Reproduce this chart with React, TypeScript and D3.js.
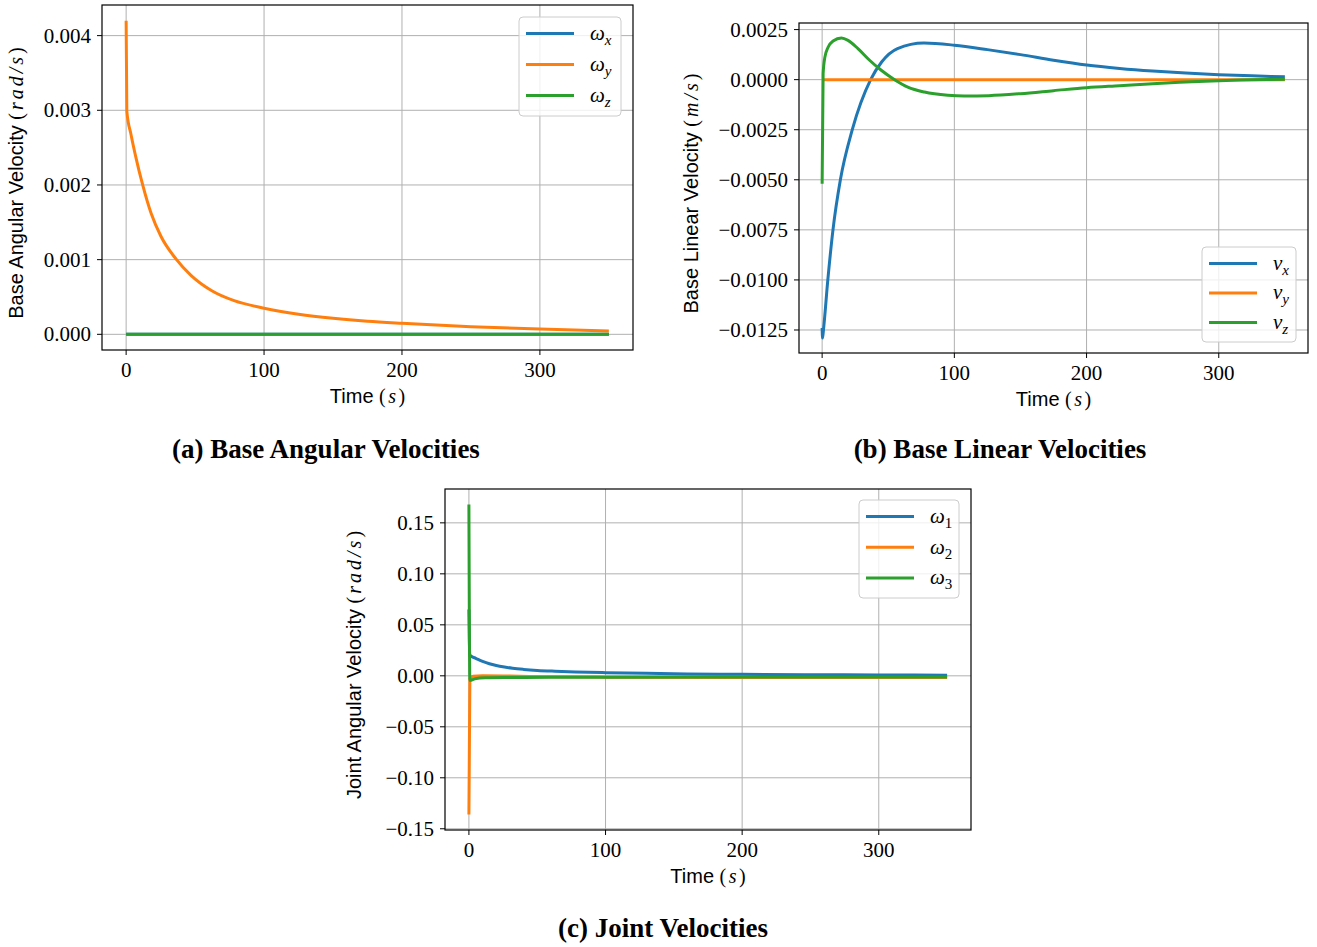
import React from 'react';
import * as d3 from 'd3';

// (a) base angular velocity, omega_y (omega_x and omega_z stay at zero)
const timeAy = [0, 0.5, 3.6, 7.2, 12, 18.1, 25.3, 36.1, 47, 61.5, 78.3, 100, 125, 150, 175, 200, 250, 300, 350];
const omegaYA = [0.0042, 0.00299, 0.00267, 0.00236, 0.0020, 0.00162, 0.00131, 0.00101, 0.00079, 0.00059, 0.00045, 0.00035, 0.00027, 0.000215, 0.000175, 0.000147, 0.000102, 0.00007, 0.000045];
const timeAflat = [0, 350];
const omegaXA = [0, 0];
const omegaZA = [0, 0];

// (b) base linear velocity
const timeBx = [0, 0.3, 1, 4.3, 8.2, 13.8, 22.8, 36.7, 45, 57, 77, 100, 125, 150, 175, 200, 225, 250, 275, 300, 325, 350];
const velXB = [-0.0124, -0.0129, -0.0125, -0.01, -0.0075, -0.005, -0.0025, 0, 0.00088, 0.00155, 0.00183, 0.00172, 0.0015, 0.00125, 0.00097, 0.00073, 0.00056, 0.00043, 0.00033, 0.00025, 0.00019, 0.00014];
const timeBy = [0, 350];
const velYB = [0, 0];
const timeBz = [0, 0.75, 2, 4.5, 8.3, 14.6, 19.6, 27.1, 35.9, 44.7, 54.8, 64.8, 77.4, 95, 107.5, 126, 150, 175, 200, 225, 250, 275, 300, 325, 350];
const velZB = [-0.0052, 0.0003, 0.0011, 0.00162, 0.00193, 0.00208, 0.00196, 0.00155, 0.00097, 0.00047, 0, -0.00037, -0.00062, -0.00078, -0.00082, -0.0008, -0.0007, -0.00055, -0.0004, -0.0003, -0.0002, -0.00012, -0.00005, -0.00001, 0.00002];

// (c) joint angular velocities
const timeC1 = [0, 0.3, 0.7, 2, 5, 10, 15, 20, 26, 32, 40, 50, 63, 78, 100, 130, 160, 200, 250, 300, 350];
const omega1C = [0.065, 0.035, 0.0205, 0.019, 0.0172, 0.0142, 0.0118, 0.0101, 0.0086, 0.0074, 0.0063, 0.0053, 0.0045, 0.0038, 0.0031, 0.0024, 0.0019, 0.0015, 0.0011, 0.0008, 0.0006];
const timeC2 = [0, 0.7, 3, 10, 30, 60, 100, 200, 350];
const omega2C = [-0.136, -0.003, -0.0005, 0, -0.0003, -0.001, -0.0013, -0.0016, -0.0017];
const timeC3 = [0, 0.7, 4.4, 12, 30, 60, 100, 200, 350];
const omega3C = [0.168, -0.0046, -0.0029, -0.002, -0.0017, -0.0015, -0.0013, -0.0012, -0.0011];

const timeTicks = [0, 100, 200, 300];
const yTicksA = [0, 0.001, 0.002, 0.003, 0.004];
const yTicksB = [-0.0125, -0.01, -0.0075, -0.005, -0.0025, 0, 0.0025];
const yTicksC = [-0.15, -0.1, -0.05, 0, 0.05, 0.1, 0.15];

const colors = ['#1f77b4', '#ff7f0e', '#2ca02c'];
const serif = '"Liberation Serif", "Times New Roman", serif';
const sans = '"Liberation Sans", Arial, sans-serif';

const padExtent = (lo, hi) => {
  const p = (hi - lo) * 0.05;
  return [lo - p, hi + p];
};

const Panel = ({ box, series, yTicks, yFmt, yLabel, yUnit, yLabelX, legend, caption }) => {
  const allT = series.flatMap(s => s.t);
  const allV = series.flatMap(s => s.v);
  const x = d3.scaleLinear()
    .domain(padExtent(d3.min(allT), d3.max(allT)))
    .range([box.left, box.right]);
  const y = d3.scaleLinear()
    .domain(padExtent(d3.min(allV), d3.max(allV)))
    .range([box.bottom, box.top]);
  const line = d3.line().x(d => x(d[0])).y(d => y(d[1])).curve(d3.curveMonotoneX);
  const fmt = d3.format(yFmt);
  const midX = (box.left + box.right) / 2;
  const midY = (box.top + box.bottom) / 2 + 5.5;

  return (
    <g>
      {/* grid */}
      {timeTicks.map(t => (
        <line key={'gx' + t} x1={x(t)} x2={x(t)} y1={box.top} y2={box.bottom} stroke="#b0b0b0" strokeWidth={1} />
      ))}
      {yTicks.map(v => (
        <line key={'gy' + v} x1={box.left} x2={box.right} y1={y(v)} y2={y(v)} stroke="#b0b0b0" strokeWidth={1} />
      ))}
      {/* series */}
      {series.map((s, i) => (
        <path key={i} d={line(s.t.map((t, j) => [t, s.v[j]]))} fill="none" stroke={s.color} strokeWidth={3} strokeLinejoin="round" />
      ))}
      {/* spines */}
      <rect x={box.left} y={box.top} width={box.right - box.left} height={box.bottom - box.top} fill="none" stroke="#000" strokeWidth={1.2} />
      {/* x ticks */}
      {timeTicks.map(t => (
        <g key={'tx' + t}>
          <line x1={x(t)} x2={x(t)} y1={box.bottom} y2={box.bottom + 5} stroke="#000" strokeWidth={1} />
          <text x={x(t)} y={box.bottom + 27} textAnchor="middle" fontFamily={serif} fontSize={21}>{t}</text>
        </g>
      ))}
      {/* y ticks */}
      {yTicks.map(v => (
        <g key={'ty' + v}>
          <line x1={box.left - 5} x2={box.left} y1={y(v)} y2={y(v)} stroke="#000" strokeWidth={1} />
          <text x={box.left - 11} y={y(v)} dy="0.33em" textAnchor="end" fontFamily={serif} fontSize={21}>{fmt(v)}</text>
        </g>
      ))}
      {/* axis labels */}
      <text x={midX} y={box.bottom + 53} textAnchor="middle" fontSize={20}>
        <tspan fontFamily={sans}>Time </tspan>
        <tspan fontFamily={serif} letterSpacing={2.5}>(</tspan>
        <tspan fontFamily={serif} fontStyle="italic" letterSpacing={2.5}>s</tspan>
        <tspan fontFamily={serif}>)</tspan>
      </text>
      <text transform={`translate(${yLabelX},${midY}) rotate(-90)`} textAnchor="middle" fontSize={20}>
        <tspan fontFamily={sans}>{yLabel} </tspan>
        <tspan fontFamily={serif} letterSpacing={3}>(</tspan>
        <tspan fontFamily={serif} fontStyle="italic" letterSpacing={3}>{yUnit}</tspan>
        <tspan fontFamily={serif}>)</tspan>
      </text>
      {/* legend */}
      <g transform={`translate(${legend.x},${legend.y})`}>
        <rect x={0} y={0} width={legend.w} height={legend.h} rx={4} fill="#fff" fillOpacity={0.8} stroke="#cccccc" strokeWidth={1} />
        {series.map((s, i) => (
          <g key={'lg' + i} transform={`translate(0,${16.5 + i * legend.gap})`}>
            <line x1={7} x2={55} y1={0} y2={0} stroke={s.color} strokeWidth={3} />
            <text x={71} y={0} dy="0.3em" fontFamily={serif} fontSize={21}>
              <tspan fontStyle="italic">{s.sym}</tspan>
              <tspan fontSize={15} dy={5} fontStyle={s.subItalic ? 'italic' : 'normal'}>{s.sub}</tspan>
            </text>
          </g>
        ))}
      </g>
      {/* caption */}
      <text x={caption.x} y={caption.y} textAnchor="middle" fontFamily={serif} fontWeight="bold" fontSize={27}>{caption.text}</text>
    </g>
  );
};

const App = () => {
  const seriesA = [
    { t: timeAflat, v: omegaXA, color: colors[0], sym: 'ω', sub: 'x', subItalic: true },
    { t: timeAy, v: omegaYA, color: colors[1], sym: 'ω', sub: 'y', subItalic: true },
    { t: timeAflat, v: omegaZA, color: colors[2], sym: 'ω', sub: 'z', subItalic: true },
  ];
  const seriesB = [
    { t: timeBx, v: velXB, color: colors[0], sym: 'v', sub: 'x', subItalic: true },
    { t: timeBy, v: velYB, color: colors[1], sym: 'v', sub: 'y', subItalic: true },
    { t: timeBz, v: velZB, color: colors[2], sym: 'v', sub: 'z', subItalic: true },
  ];
  const seriesC = [
    { t: timeC1, v: omega1C, color: colors[0], sym: 'ω', sub: '1', subItalic: false },
    { t: timeC2, v: omega2C, color: colors[1], sym: 'ω', sub: '2', subItalic: false },
    { t: timeC3, v: omega3C, color: colors[2], sym: 'ω', sub: '3', subItalic: false },
  ];

  return (
    <svg width={1317} height={947} style={{ position: 'absolute', left: 0, top: 0, background: '#fff' }}>
      <Panel
        box={{ left: 102, top: 5, right: 633, bottom: 350 }}
        series={seriesA}
        yTicks={yTicksA}
        yFmt=".3f"
        yLabel="Base Angular Velocity"
        yUnit="rad/s"
        yLabelX={23}
        legend={{ x: 519, y: 17, w: 102, h: 99, gap: 31 }}
        caption={{ x: 326, y: 458, text: '(a) Base Angular Velocities' }}
      />
      <Panel
        box={{ left: 799, top: 23, right: 1308, bottom: 353 }}
        series={seriesB}
        yTicks={yTicksB}
        yFmt=".4f"
        yLabel="Base Linear Velocity"
        yUnit="m/s"
        yLabelX={698}
        legend={{ x: 1202, y: 247, w: 94, h: 95, gap: 29.5 }}
        caption={{ x: 1000, y: 458, text: '(b) Base Linear Velocities' }}
      />
      <Panel
        box={{ left: 445, top: 489, right: 971, bottom: 830 }}
        series={seriesC}
        yTicks={yTicksC}
        yFmt=".2f"
        yLabel="Joint Angular Velocity"
        yUnit="rad/s"
        yLabelX={361}
        legend={{ x: 859, y: 500, w: 100, h: 98, gap: 30.7 }}
        caption={{ x: 663, y: 937, text: '(c) Joint Velocities' }}
      />
    </svg>
  );
};

export default App;
